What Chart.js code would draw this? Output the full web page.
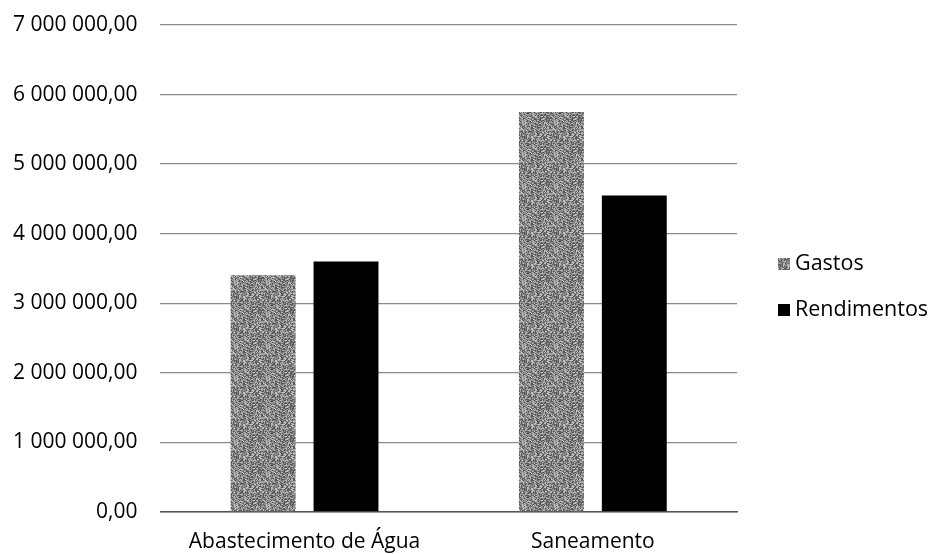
<!DOCTYPE html>
<html>
<head>
<meta charset="utf-8">
<script src="https://cdn.jsdelivr.net/npm/chart.js@4"></script>
<style>
html,body{margin:0;padding:0;background:#fff;}
#wrap{width:929px;height:554px;}
</style>
</head>
<body>
<div id="wrap"><canvas id="c" width="929" height="554"></canvas></div>
<script>
const categories = ["Abastecimento de Água", "Saneamento"];
const gastos = [3400000, 5750000];
const rendimentos = [3600000, 4550000];
const seriesNames = ["Gastos", "Rendimentos"];

function makeNoisePattern() {
  const s = 32;
  const cv = document.createElement('canvas');
  cv.width = s; cv.height = s;
  const cx = cv.getContext('2d');
  const img = cx.createImageData(s, s);
  let h = 12345;
  for (let i = 0; i < s * s; i++) {
    h = (h * 1103515245 + 12345) & 0x7fffffff;
    const r = (h >> 16) & 255;
    const v = r < 90 ? 90 : (r < 200 ? 140 : 190);
    img.data[i*4] = v; img.data[i*4+1] = v; img.data[i*4+2] = v; img.data[i*4+3] = 255;
  }
  cx.putImageData(img, 0, 0);
  return cx.createPattern(cv, 'repeat');
}
const ctx = document.getElementById('c').getContext('2d');
const pat = makeNoisePattern();

function fmt(v) {
  const n = Math.round(v);
  const s = String(n).replace(/\B(?=(\d{3})+(?!\d))/g, ' ');
  return s + ',00';
}
const FONT = "'Open Sans', 'Liberation Sans', sans-serif";

// Legend drawn to the right of the plot, from the chart's own datasets
const sideLegend = {
  id: 'sideLegend',
  afterDraw(chart) {
    const c = chart.ctx;
    const area = chart.chartArea;
    const x0 = area.right + 41;
    const midY = 287;
    const step = 46;
    const ds = chart.data.datasets;
    c.save();
    c.font = "21.5px " + FONT;
    c.textBaseline = 'middle';
    c.textAlign = 'left';
    ds.forEach((d, i) => {
      const y = midY + (i - (ds.length - 1) / 2) * step;
      c.fillStyle = d.backgroundColor;
      c.fillRect(x0, y - 6, 12, 12);
      c.fillStyle = '#000';
      c.fillText(d.label, x0 + 17, y);
    });
    c.restore();
  }
};

new Chart(ctx, {
  type: 'bar',
  data: {
    labels: categories,
    datasets: [
      { label: seriesNames[0], data: gastos, backgroundColor: pat, borderWidth: 0 },
      { label: seriesNames[1], data: rendimentos, backgroundColor: '#000000', borderWidth: 0 }
    ]
  },
  plugins: [sideLegend],
  options: {
    responsive: false,
    animation: false,
    devicePixelRatio: 1,
    layout: { padding: { left: -10, top: 25, right: 192, bottom: -18 } },
    datasets: { bar: { categoryPercentage: 0.575, barPercentage: 0.783 } },
    plugins: {
      legend: { display: false },
      tooltip: { enabled: false }
    },
    scales: {
      x: {
        grid: { display: false, drawTicks: false },
        border: { display: true, color: '#555', width: 1.5 },
        ticks: { color: '#000', padding: 17.5, font: { family: FONT, size: 21 } }
      },
      y: {
        min: 0, max: 7000000,
        afterFit: (s) => { s.paddingTop = 0; },
        ticks: { stepSize: 1000000, color: '#000', padding: 23, callback: v => fmt(v),
          font: { family: FONT, size: 21 } },
        grid: { color: '#8a8a8a', lineWidth: 1.2, drawTicks: false },
        border: { display: false }
      }
    }
  }
});
</script>
</body>
</html>
